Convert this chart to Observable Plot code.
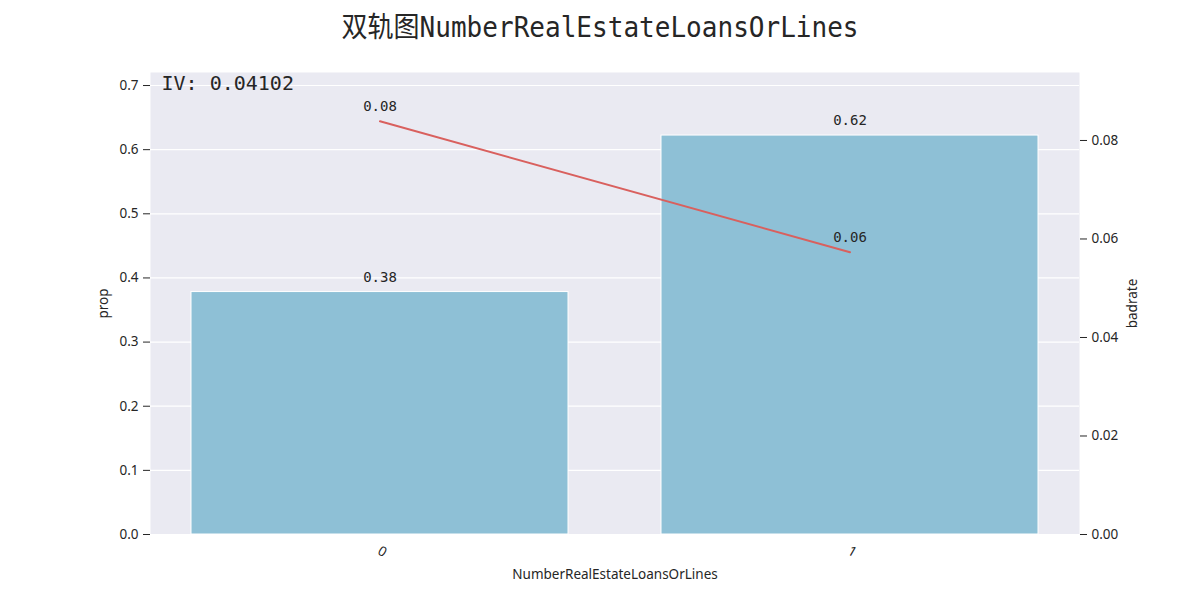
<!DOCTYPE html>
<html>
<head>
<meta charset="utf-8">
<script src="https://cdn.jsdelivr.net/npm/d3@7"></script>
<script src="https://cdn.jsdelivr.net/npm/@observablehq/plot@0.6"></script>
<style>
  body { margin: 0; background: white; }
  #title { height: 50px; width: 1200px; display: flex; align-items: center; justify-content: center; }
  #title span { display: inline-block; font-family: "DejaVu Sans Mono", "Noto Sans CJK SC", monospace; font-size: 28px; color: #262626; transform: scaleX(0.93); white-space: nowrap; }
</style>
</head>
<body>
<div id="title"><span>双轨图NumberRealEstateLoansOrLines</span></div>
<div id="chart"></div>
<script>
// data
const cats = ["0", "1"]
const prop = [0.378, 0.622]
const badrate = [0.0839, 0.0573]
const iv = 0.04102
const propTicks = [0, 0.1, 0.2, 0.3, 0.4, 0.5, 0.6, 0.7]
const badTicks = [0, 0.02, 0.04, 0.06, 0.08]
const xName = "NumberRealEstateLoansOrLines"

// both y axes share one scale, badrate is stretched onto it
const propTop = 0.7203
const badTop = 0.0938
const k = propTop / badTop

const rows = cats.map((c, i) => ({cat: c, prop: prop[i], bad: badrate[i]}))
const mono = "DejaVu Sans Mono, Noto Sans CJK SC, monospace"

let chart = Plot.plot({
  width: 1200,
  height: 550,
  marginTop: 22,
  marginBottom: 66,
  marginLeft: 150,
  marginRight: 121,
  style: {fontFamily: "Noto Sans", fontSize: "13.5px", color: "#262626", background: "white"},
  x: {type: "band", domain: cats, paddingInner: 0.198, paddingOuter: 0.087, axis: null},
  y: {domain: [0, propTop], axis: null},
  marks: [
    Plot.frame({fill: "#EAEAF2", stroke: "none"}),
    Plot.gridY(propTicks, {stroke: "white", strokeOpacity: 1, strokeWidth: 1.2}),
    Plot.barY(rows, {x: "cat", y: "prop", fill: "#8EC0D6", stroke: "white", strokeWidth: 1}),
    Plot.line(rows, {x: "cat", y: d => d.bad * k, stroke: "#D9605E", strokeWidth: 2}),
    Plot.text(rows, {x: "cat", y: "prop", text: d => d.prop.toFixed(2), dy: -15, fontFamily: mono, fontSize: 14, fill: "#262626"}),
    Plot.text(rows, {x: "cat", y: d => d.bad * k, text: d => d.bad.toFixed(2), dy: -15, fontFamily: mono, fontSize: 14, fill: "#262626"}),
    Plot.axisY(propTicks, {anchor: "left", tickFormat: d => d.toFixed(1), tickSize: 7, tickPadding: 5, label: "prop", labelAnchor: "center", labelArrow: "none", labelOffset: 52}),
    Plot.axisY(badTicks.map(t => t * k), {anchor: "right", tickFormat: d => (d / k).toFixed(2), tickSize: 7, tickPadding: 5, label: "badrate", labelAnchor: "center", labelArrow: "none", labelOffset: 57}),
    Plot.text(cats, {x: d => d, frameAnchor: "bottom", dy: 21, rotate: 30, fontSize: 13.5}),
    Plot.text([xName], {frameAnchor: "bottom", dy: 44, fontSize: 13.5}),
    Plot.text(["IV: " + iv], {frameAnchor: "top-left", dx: 11, dy: 3, textAnchor: "start", fontFamily: mono, fontSize: 20, fill: "#262626"}),
  ]
})
d3.select('#chart').append(() => chart)
</script>
</body>
</html>
